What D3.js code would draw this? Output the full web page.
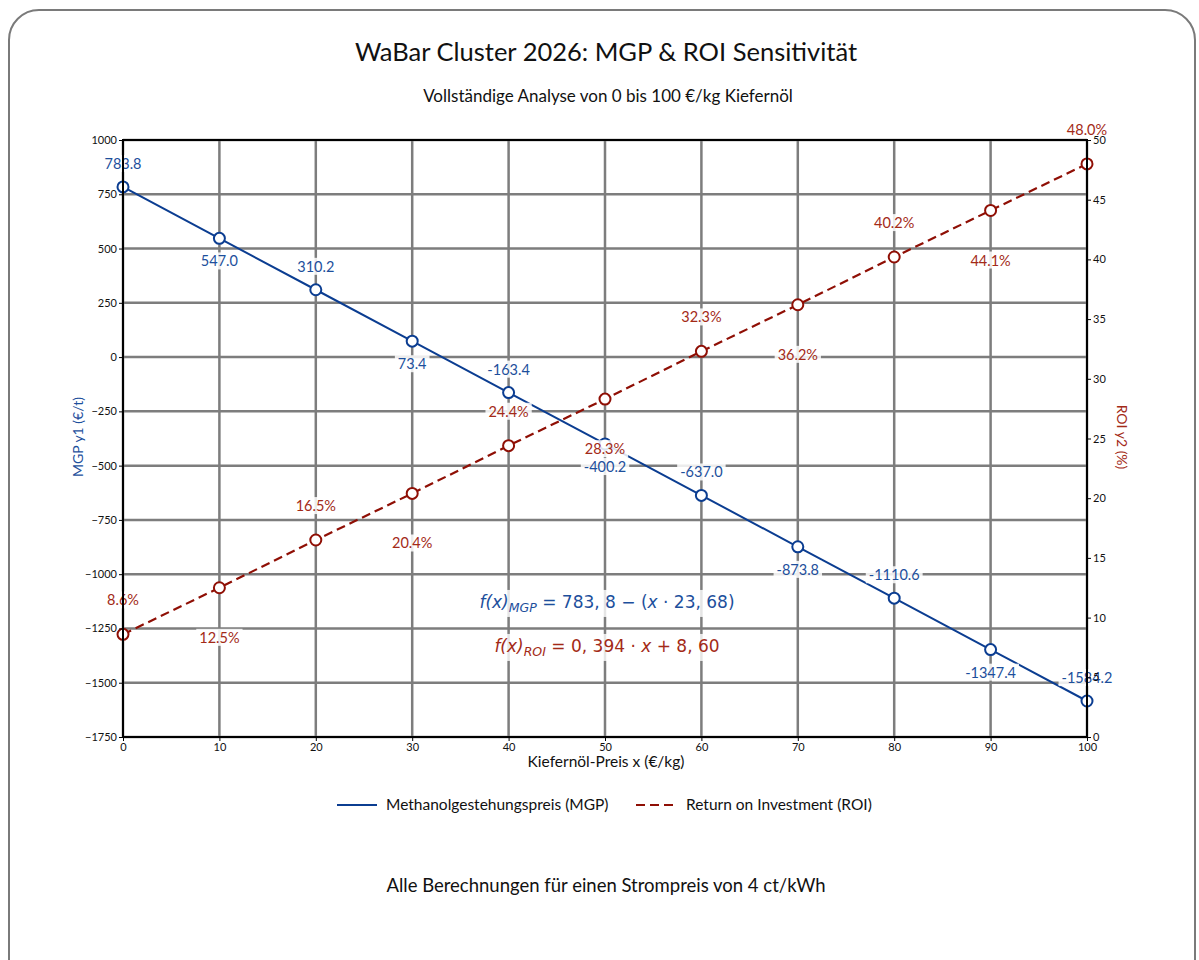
<!DOCTYPE html>
<html>
<head>
<meta charset="utf-8">
<script src="https://d3js.org/d3.v7.min.js"></script>
<style>
  body { margin: 0; background: #fff; }
  text { font-family: Lato, "Open Sans", sans-serif; }
</style>
</head>
<body>
<svg id="chart"></svg>
<script>
// data
var xValues = [0, 10, 20, 30, 40, 50, 60, 70, 80, 90, 100];
var mgpValues = [783.8, 547.0, 310.2, 73.4, -163.4, -400.2, -637.0, -873.8, -1110.6, -1347.4, -1584.2];
var roiValues = [8.6, 12.5, 16.5, 20.4, 24.4, 28.3, 32.3, 36.2, 40.2, 44.1, 48.0];
var xTicks = [0, 10, 20, 30, 40, 50, 60, 70, 80, 90, 100];
var leftTicks = [-1750, -1500, -1250, -1000, -750, -500, -250, 0, 250, 500, 750, 1000];
var rightTicks = [0, 5, 10, 15, 20, 25, 30, 35, 40, 45, 50];

var width = 1199, height = 960;
var blue = "#0b3d91", blueText = "#1d4f9c";
var red = "#8f0f05", redText = "#a32a17";

var svg = d3.select("#chart")
    .attr("width", width)
    .attr("height", height);

// card
svg.append("rect")
    .attr("x", 9).attr("y", 10)
    .attr("width", 1186).attr("height", 1000)
    .attr("rx", 30)
    .attr("fill", "#fff")
    .attr("stroke", "#7a7a7a")
    .attr("stroke-width", 2);

var pLeft = 123, pRight = 1087, pTop = 140, pBottom = 737;

var x = d3.scaleLinear().domain([0, 100]).range([pLeft, pRight]);
var y1 = d3.scaleLinear().domain([-1750, 1000]).range([pBottom, pTop]);
var y2 = d3.scaleLinear().domain([0, 50]).range([pBottom, pTop]);

// titles
svg.append("text").attr("x", 606).attr("y", 61)
    .attr("text-anchor", "middle").attr("font-size", 25.5).attr("fill", "#111")
    .text("WaBar Cluster 2026: MGP & ROI Sensitivität");
svg.append("text").attr("x", 608).attr("y", 102)
    .attr("text-anchor", "middle").attr("font-size", 17).attr("fill", "#111")
    .text("Vollständige Analyse von 0 bis 100 €/kg Kiefernöl");

// grid
var grid = svg.append("g");
grid.selectAll(".vg").data(xTicks).enter().append("line")
    .attr("x1", function(d) { return x(d); }).attr("x2", function(d) { return x(d); })
    .attr("y1", pTop).attr("y2", pBottom)
    .attr("stroke", "#7d7d7d").attr("stroke-width", 2.5);
grid.selectAll(".hg").data(leftTicks).enter().append("line")
    .attr("x1", pLeft).attr("x2", pRight)
    .attr("y1", function(d) { return y1(d); }).attr("y2", function(d) { return y1(d); })
    .attr("stroke", "#7d7d7d").attr("stroke-width", 2.5);

// lines
var mgpLine = d3.line()
    .x(function(d, i) { return x(xValues[i]); })
    .y(function(d) { return y1(d); });
var roiLine = d3.line()
    .x(function(d, i) { return x(xValues[i]); })
    .y(function(d) { return y2(d); });

svg.append("path").datum(mgpValues)
    .attr("d", mgpLine).attr("fill", "none")
    .attr("stroke", blue).attr("stroke-width", 2);
svg.append("path").datum(roiValues)
    .attr("d", roiLine).attr("fill", "none")
    .attr("stroke", red).attr("stroke-width", 2.2)
    .attr("stroke-dasharray", "9,5");

// markers
svg.selectAll(".mgpDot").data(mgpValues).enter().append("circle")
    .attr("cx", function(d, i) { return x(xValues[i]); })
    .attr("cy", function(d) { return y1(d); })
    .attr("r", 5.5).attr("fill", "#fff")
    .attr("stroke", blue).attr("stroke-width", 2);
svg.selectAll(".roiDot").data(roiValues).enter().append("circle")
    .attr("cx", function(d, i) { return x(xValues[i]); })
    .attr("cy", function(d) { return y2(d); })
    .attr("r", 5.5).attr("fill", "#fff")
    .attr("stroke", red).attr("stroke-width", 2);

// value labels with white box
var addLabel = function(px, py, txt, color) {
    var g = svg.append("g");
    var t = g.append("text").attr("x", px).attr("y", py)
        .attr("text-anchor", "middle").attr("dy", "0.35em")
        .attr("font-size", 14.5).attr("fill", color).text(txt);
    var bb = t.node().getBBox();
    g.insert("rect", "text")
        .attr("x", bb.x - 3).attr("y", bb.y)
        .attr("width", bb.width + 6).attr("height", bb.height)
        .attr("fill", "#fff").attr("fill-opacity", 0.85);
};

mgpValues.forEach(function(d, i) {
    var off = (i % 2 == 0) ? -23 : 23;
    addLabel(x(xValues[i]), y1(d) + off, d.toFixed(1), blueText);
});
roiValues.forEach(function(d, i) {
    var off = (i % 2 == 0) ? -34 : 50;
    addLabel(x(xValues[i]), y2(d) + off, d.toFixed(1) + "%", redText);
});

// frame
svg.append("rect").attr("x", pLeft).attr("y", pTop)
    .attr("width", pRight - pLeft).attr("height", pBottom - pTop)
    .attr("fill", "none").attr("stroke", "#000").attr("stroke-width", 2);

// axes
var xAxis = svg.append("g").attr("transform", "translate(0," + pBottom + ")")
    .call(d3.axisBottom(x).tickValues(xTicks).tickSize(4).tickPadding(2));
var yAxisL = svg.append("g").attr("transform", "translate(" + pLeft + ",0)")
    .call(d3.axisLeft(y1).tickValues(leftTicks).tickSize(4).tickPadding(2)
        .tickFormat(function(d) { return d < 0 ? "\u2212" + Math.abs(d) : d; }));
var yAxisR = svg.append("g").attr("transform", "translate(" + pRight + ",0)")
    .call(d3.axisRight(y2).tickValues(rightTicks).tickSize(4).tickPadding(2));
[xAxis, yAxisL, yAxisR].forEach(function(a) {
    a.select(".domain").remove();
    a.selectAll("text").attr("font-size", 11).attr("fill", "#111")
        .style("font-family", "Lato, sans-serif");
    a.selectAll("line").attr("stroke", "#000");
});

// axis titles
svg.append("text").attr("x", 606).attr("y", 767)
    .attr("text-anchor", "middle").attr("font-size", 15.5).attr("fill", "#111")
    .text("Kiefernöl-Preis x (€/kg)");
svg.append("text").attr("transform", "translate(83,437) rotate(-90)")
    .attr("text-anchor", "middle").attr("font-size", 14).attr("fill", blueText)
    .text("MGP y1 (€/t)");
svg.append("text").attr("transform", "translate(1117,437) rotate(90)")
    .attr("text-anchor", "middle").attr("font-size", 14).attr("fill", redText)
    .text("ROI y2 (%)");

// formulas
var addFormula = function(cy, parts, color) {
    var g = svg.append("g");
    var t = g.append("text").attr("x", 607).attr("y", cy)
        .attr("text-anchor", "middle").attr("dy", "0.35em")
        .attr("font-size", 17).attr("fill", color)
        .style("font-family", "'DejaVu Sans', sans-serif");
    parts.forEach(function(p) {
        var s = t.append("tspan").text(p.t);
        if (p.i) s.attr("font-style", "italic");
        if (p.sub) s.attr("font-size", 12.5).attr("dy", 4);
        if (p.up) s.attr("dy", -4);
    });
    var bb = t.node().getBBox();
    g.insert("rect", "text")
        .attr("x", bb.x - 4).attr("y", bb.y - 2)
        .attr("width", bb.width + 8).attr("height", bb.height + 4)
        .attr("fill", "#fff").attr("fill-opacity", 0.8);
};
addFormula(602, [
    {t: "f(x)", i: true}, {t: "MGP", i: true, sub: true},
    {t: " = 783, 8 \u2212 (", up: true}, {t: "x", i: true}, {t: " \u00b7 23, 68)"}
], blueText);
addFormula(646, [
    {t: "f(x)", i: true}, {t: "ROI", i: true, sub: true},
    {t: " = 0, 394 \u00b7 ", up: true}, {t: "x", i: true}, {t: " + 8, 60"}
], redText);

// legend
var legend = svg.append("g");
legend.append("line").attr("x1", 337).attr("x2", 377).attr("y1", 805).attr("y2", 805)
    .attr("stroke", blue).attr("stroke-width", 2);
legend.append("text").attr("x", 386).attr("y", 805).attr("dy", "0.35em")
    .attr("font-size", 15.5).attr("fill", "#111").text("Methanolgestehungspreis (MGP)");
legend.append("line").attr("x1", 636).attr("x2", 676).attr("y1", 805).attr("y2", 805)
    .attr("stroke", red).attr("stroke-width", 2.2).attr("stroke-dasharray", "9,5");
legend.append("text").attr("x", 686).attr("y", 805).attr("dy", "0.35em")
    .attr("font-size", 15.5).attr("fill", "#111").text("Return on Investment (ROI)");

// footer
svg.append("text").attr("x", 606).attr("y", 886).attr("dy", "0.35em")
    .attr("text-anchor", "middle").attr("font-size", 18.5).attr("fill", "#111")
    .text("Alle Berechnungen für einen Strompreis von 4 ct/kWh");
</script>
</body>
</html>
